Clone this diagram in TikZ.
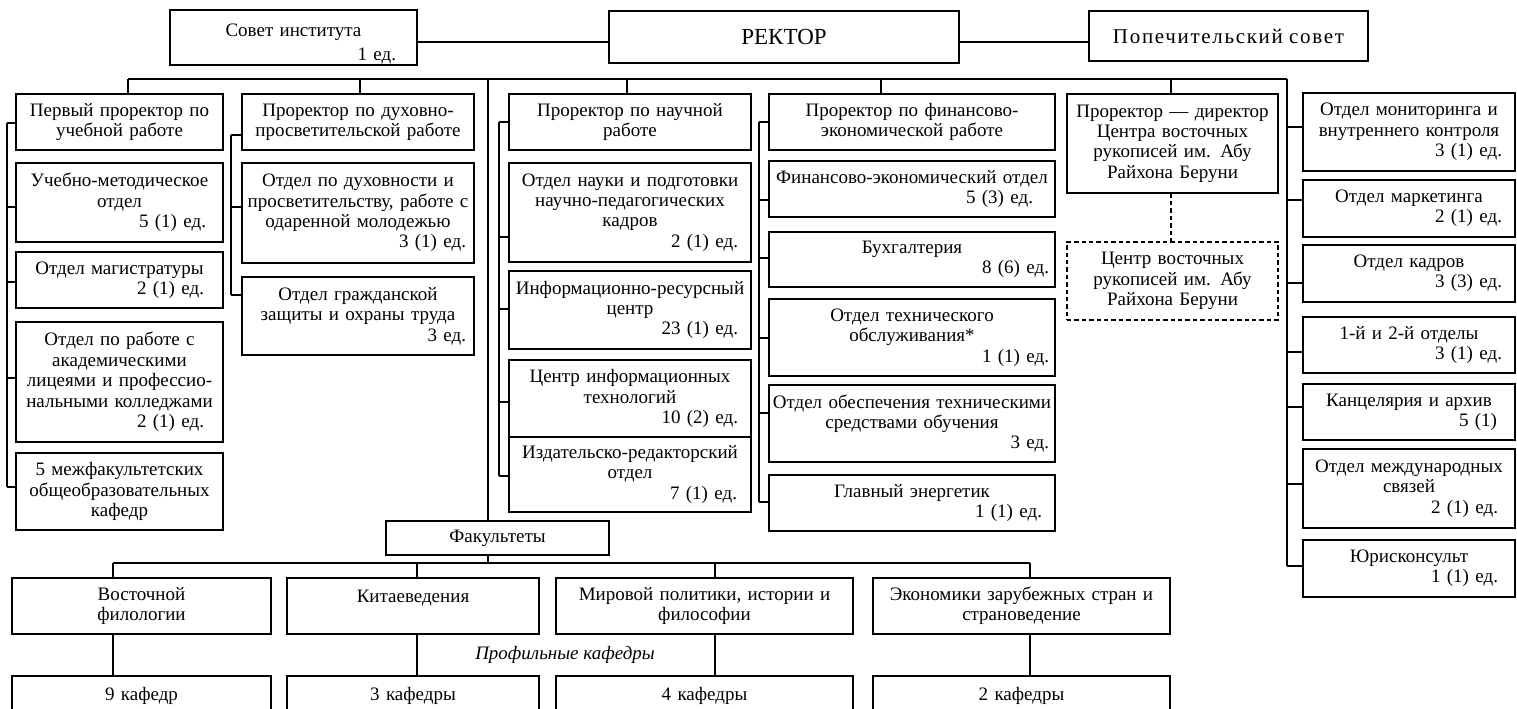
\documentclass[tikz,border=0pt]{standalone}
\usepackage{fontspec}
\setmainfont{Liberation Serif}
\hyphenpenalty=10000
\exhyphenpenalty=10000
\newcommand\obox[7][bx]{%
 \pgfmathsetmacro\obw{(#5-#3)*0.5}%
 \pgfmathsetmacro\obh{(#6-#4)*0.5}%
 \node[#1, minimum width=\obw pt, minimum height=\obh pt, text width=\obw pt] (#2) at ({(#3+#5)/2},{(#4+#6)/2}) {#7};%
}
\newcommand\ed[2]{\\\hspace*{\fill}#1\hbox to #2pt{}}
\newcommand\conn[3]{\draw[ln] (#1,#2) -- (#3.west |- #1,#2);}
\tikzset{
 bx/.style={draw, line width=0.6pt, inner sep=0pt, align=center,
   font=\fontsize{9.5}{10.2}\selectfont},
 dbx/.style={bx, line width=1pt, dash pattern=on 2.2pt off 1.5pt},
 ln/.style={line width=0.6pt},
 dln/.style={line width=1pt, dash pattern=on 2.2pt off 1.5pt}
}
\begin{document}
\hyphenpenalty=10000
\exhyphenpenalty=10000
\begin{tikzpicture}[x=0.5pt,y=-0.5pt]
\useasboundingbox (0,0) rectangle (1517,708);
\clip (0,0) rectangle (1517,708);
% top row
\obox{sovet}{170}{10}{417}{65}{\rule{0pt}{13pt}Совет института\\[2pt]\hspace*{\fill}1 ед.\hbox to 10.5pt{}}
\obox{rektor}{609}{11}{959}{63}{\fontsize{11.5}{12}\selectfont РЕКТОР}
\obox{popech}{1089}{11}{1368}{61}{\fontsize{10.5}{11}\selectfont\addfontfeature{LetterSpace=8}Попечительский совет}
\draw[ln] (sovet.east |- 0,42) -- (rektor.west |- 0,42);
\draw[ln] (rektor.east |- 0,42) -- (popech.west |- 0,42);
% column 1
\obox{c1h}{16}{94}{223}{150}{Первый проректор по\\учебной работе}
\obox{c1a}{16}{163}{223}{242}{Учебно-методическое\\отдел\ed{5 (1) ед.}{8.5}}
\obox{c1b}{16}{252}{223}{308}{Отдел магистратуры\ed{2 (1) ед.}{9.5}}
\obox{c1c}{16}{322}{223}{442}{Отдел по работе с\\академическими\\лицеями и профессио-\\нальными колледжами\ed{2 (1) ед.}{9.5}}
\obox{c1d}{16}{453}{223}{530}{5 межфакультетских\\общеобразовательных\\кафедр}
% column 2
\obox{c2h}{242}{94}{474}{150}{Проректор по духовно-\\просветительской работе}
\obox{c2a}{242}{163}{474}{263}{Отдел по духовности и\\просветительству, работе с\\одаренной молодежью\ed{3 (1) ед.}{4}}
\obox{c2b}{242}{277}{474}{355}{Отдел гражданской\\защиты и охраны труда\ed{3 ед.}{4}}
% column 3
\obox{c3h}{509}{94}{751}{150}{Проректор по научной\\работе}
\obox{c3a}{509}{163}{751}{262}{Отдел науки и подготовки\\научно-педагогических\\кадров\ed{2 (1) ед.}{6.5}}
\obox{c3b}{509}{271}{751}{349}{Информационно-ресурсный\\центр\ed{23 (1) ед.}{6.5}}
\obox{c3c}{509}{360}{751}{437}{Центр информационных\\технологий\ed{10 (2) ед.}{6.5}}
\obox{c3d}{509}{437}{751}{512}{Издательско-редакторский\\отдел\ed{7 (1) ед.}{7}}
% column 4
\obox{c4h}{769}{94}{1055}{150}{Проректор по финансово-\\экономической работе}
\obox{c4a}{769}{161}{1055}{217}{Финансово-экономический отдел\ed{5 (3) ед.}{11}}
\obox{c4b}{769}{232}{1055}{287}{Бухгалтерия\ed{8 (6) ед.}{3}}
\obox{c4c}{769}{299}{1055}{376}{Отдел технического\\обслуживания*\ed{1 (1) ед.}{3}}
\obox{c4d}{769}{385}{1055}{462}{Отдел обеспечения техническими\\средствами обучения\ed{3 ед.}{3}}
\obox{c4e}{769}{475}{1055}{531}{Главный энергетик\ed{1 (1) ед.}{6.5}}
% column 5
\obox{c5h}{1067}{94}{1278}{193}{Проректор — директор\\Центра восточных\\рукописей им. Абу\\Райхона Беруни}
\obox[dbx]{c5d}{1067}{242}{1278}{320}{Центр восточных\\рукописей им. Абу\\Райхона Беруни}
% right column
\obox{r1}{1303}{93}{1515}{171}{Отдел мониторинга и\\внутреннего контроля\ed{3 (1) ед.}{6.5}}
\obox{r2}{1303}{180}{1515}{237}{Отдел маркетинга\ed{2 (1) ед.}{6.5}}
\obox{r3}{1303}{245}{1515}{302}{Отдел кадров\ed{3 (3) ед.}{6.5}}
\obox{r4}{1303}{317}{1515}{373}{1-й и 2-й отделы\ed{3 (1) ед.}{6.5}}
\obox{r5}{1303}{384}{1515}{440}{Канцелярия и архив\ed{5 (1)}{9}}
\obox{r6}{1303}{449}{1515}{528}{Отдел международных\\связей\ed{2 (1) ед.}{8.5}}
\obox{r7}{1303}{540}{1515}{597}{Юрисконсульт\ed{1 (1) ед.}{8.5}}
% faculties
\obox{fac}{386}{521}{609}{555}{Факультеты}
\obox{f1}{12}{578}{271}{634}{Восточной\\филологии}
\obox{f2}{287}{578}{539}{634}{Китаеведения\\\mbox{}}
\obox{f3}{556}{578}{853}{634}{Мировой политики, истории и\\философии}
\obox{f4}{873}{578}{1170}{634}{Экономики зарубежных стран и\\страноведение}
\obox{k1}{12}{676}{271}{716}{9 кафедр}
\obox{k2}{287}{676}{539}{716}{3 кафедры}
\obox{k3}{556}{676}{853}{716}{4 кафедры}
\obox{k4}{873}{676}{1170}{716}{2 кафедры}
\node[font=\fontsize{9.5}{10}\selectfont\itshape] (prof) at (565,655) {Профильные кафедры};
% main bus
\coordinate (bL) at (128,79);
\coordinate (bR) at (1287,79);
\coordinate (s0) at (488,79);
\coordinate (s2) at (360,79);
\coordinate (s3) at (627,79);
\coordinate (s4) at (881,79);
\coordinate (s5) at (1171,79);
\draw[ln] (bL) -- (bR);
\draw[ln] (bL) -- (c1h.north -| bL);
\draw[ln] (s2) -- (c2h.north -| s2);
\draw[ln] (s3) -- (c3h.north -| s3);
\draw[ln] (s4) -- (c4h.north -| s4);
\draw[ln] (s5) -- (c5h.north -| s5);
\draw[ln] (s0) -- (fac.north -| s0);
\draw[dln] (c5h.south -| s5) -- (c5d.north -| s5);
% column spines
\draw[ln] (7,123) -- (7,487);
\conn{7}{123}{c1h}\conn{7}{207}{c1a}\conn{7}{282}{c1b}\conn{7}{378}{c1c}\conn{7}{487}{c1d}
\draw[ln] (231,135) -- (231,295);
\conn{231}{135}{c2h}\conn{231}{207}{c2a}\conn{231}{295}{c2b}
\draw[ln] (499,122) -- (499,476);
\conn{499}{122}{c3h}\conn{499}{237}{c3a}\conn{499}{309}{c3b}\conn{499}{402}{c3c}\conn{499}{476}{c3d}
\draw[ln] (759,122) -- (759,502);
\conn{759}{122}{c4h}\conn{759}{200}{c4a}\conn{759}{258}{c4b}\conn{759}{338}{c4c}\conn{759}{413}{c4d}\conn{759}{502}{c4e}
\draw[ln] (bR) -- (1287,566);
\conn{1287}{127}{r1}\conn{1287}{200}{r2}\conn{1287}{283}{r3}\conn{1287}{352}{r4}\conn{1287}{407}{r5}\conn{1287}{484}{r6}\conn{1287}{566}{r7}
% faculty bus
\coordinate (fb) at (488,563);
\draw[ln] (fac.south -| fb) -- (fb);
\draw[ln] (113,563) -- (1030,563);
\draw[ln] (113,563) -- (f1.north -| 113,0);
\draw[ln] (417,563) -- (f2.north -| 417,0);
\draw[ln] (715,563) -- (f3.north -| 715,0);
\draw[ln] (1030,563) -- (f4.north -| 1030,0);
\draw[ln] (f1.south -| 113,0) -- (k1.north -| 113,0);
\draw[ln] (f2.south -| 417,0) -- (k2.north -| 417,0);
\draw[ln] (f3.south -| 715,0) -- (k3.north -| 715,0);
\draw[ln] (f4.south -| 1030,0) -- (k4.north -| 1030,0);
\end{tikzpicture}
\end{document}
